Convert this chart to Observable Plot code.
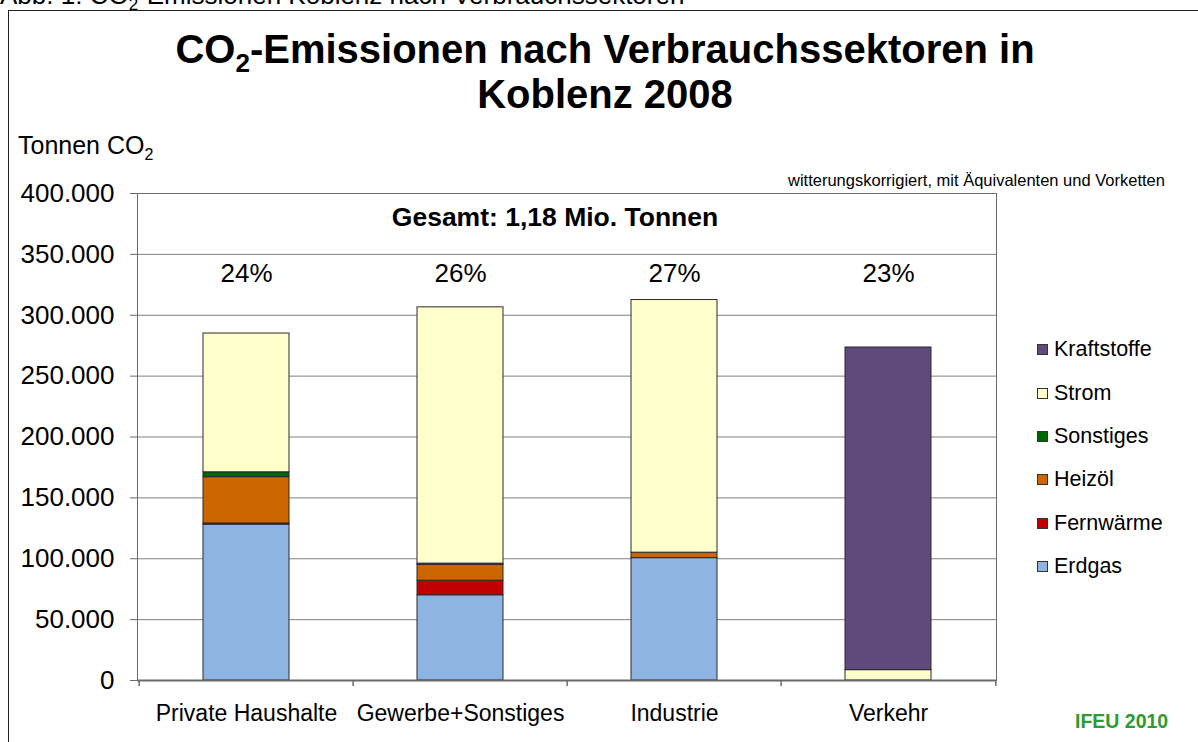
<!DOCTYPE html>
<html>
<head>
<meta charset="utf-8">
<script src="https://cdn.jsdelivr.net/npm/d3@7"></script>
<script src="https://cdn.jsdelivr.net/npm/@observablehq/plot@0.6"></script>
<style>
  html, body { margin: 0; padding: 0; background: #fff; }
  body { font-family: "Liberation Sans", Arial, sans-serif; color: #000; }
  #wrap { position: relative; width: 1198px; height: 742px; overflow: hidden; }
  #wrap > * { position: absolute; }
  #chart { left: 0; top: 0; }
  .abs { position: absolute; white-space: nowrap; }
</style>
</head>
<body>
<div id="wrap">
  <div class="abs" id="caption" style="left:0; top:-20px; font-size:26px;">Abb. 1: CO<sub style="font-size:17px">2</sub>-Emissionen Koblenz nach Verbrauchssektoren</div>
  <div class="abs" style="left:8px; top:10px; width:1400px; height:1000px; border:1px solid #222;"></div>
  <div id="chart"></div>
  <div class="abs" id="title" style="left:0; width:1210px; top:27px; text-align:center; font-weight:bold; font-size:40px; line-height:45px;">CO<sub style="font-size:26px; line-height:0;">2</sub>-Emissionen nach Verbrauchssektoren in<br>Koblenz 2008</div>
  <div class="abs" style="left:18px; top:131px; font-size:25px;">Tonnen CO<sub style="font-size:16px; line-height:0;">2</sub></div>
  <div class="abs" id="note" style="left:788px; top:171px; font-size:16.5px;"></div>
  <div class="abs" id="total" style="left:355px; width:400px; top:202px; text-align:center; font-weight:bold; font-size:26.5px;"></div>
  <div class="abs" id="legend" style="left:1037px; top:328px;"></div>
  <div class="abs" id="ifeu" style="left:1075px; top:710px; font-weight:bold; font-size:19.5px; color:#2f9a2f;"></div>
</div>
<script>
// ---- data ----
const categories = ["Private Haushalte", "Gewerbe+Sonstiges", "Industrie", "Verkehr"];
const sources = ["Erdgas", "Fernwärme", "Heizöl", "Sonstiges", "Strom", "Kraftstoffe"];
const erdgas      = [128000,  70000, 100500,      0];
const fernwaerme  = [  1000,  12000,      0,      0];
const heizoel     = [ 38000,  13000,   4500,      0];
const sonstiges   = [  4000,   1000,      0,      0];
const strom       = [114000, 210500, 207500,   8500];
const kraftstoffe = [     0,      0,      0, 265000];
const shares = ["24%", "26%", "27%", "23%"];
const yTicks = [0, 50000, 100000, 150000, 200000, 250000, 300000, 350000, 400000];
const colors = ["#8eb4e3", "#c00000", "#cc6600", "#006600", "#ffffcc", "#604a7b"];
const totalLabel = "Gesamt: 1,18 Mio. Tonnen";
const noteLabel = "witterungskorrigiert, mit Äquivalenten und Vorketten";
const sourceLabel = "IFEU 2010";

// ---- build ----
const series = [erdgas, fernwaerme, heizoel, sonstiges, strom, kraftstoffe];
const rows = [];
categories.forEach((c, i) => sources.forEach((s, j) => {
  if (series[j][i] > 0) rows.push({sector: c, source: s, value: series[j][i]});
}));
const shareRows = categories.map((c, i) => ({sector: c, share: shares[i]}));

const W = 1198, H = 742, mL = 137, mR = 202, mT = 193, mB = 62;
const step = (W - mL - mR) / categories.length;
const locale = d3.formatLocale({decimal: ",", thousands: ".", grouping: [3], currency: ["", "€"]});
const fmt = locale.format(",d");

const chart = Plot.plot({
  width: W, height: H,
  marginLeft: mL, marginRight: mR, marginTop: mT, marginBottom: mB,
  style: {fontFamily: "'Liberation Sans', Arial, sans-serif", fontSize: "21px", color: "#000", background: "transparent", overflow: "visible"},
  x: {domain: categories, paddingInner: 0.6, paddingOuter: 0.3},
  y: {domain: [0, 400000]},
  color: {domain: sources, range: colors},
  marks: [
    Plot.gridY(yTicks, {stroke: "#808080", strokeOpacity: 1, strokeWidth: 1}),
    Plot.frame({stroke: "#6a6a6a", strokeWidth: 1}),
    Plot.barY(rows, {x: "sector", y: "value", fill: "source", stroke: "#2a2a2a", strokeWidth: 1}),
    Plot.ruleY([0], {stroke: "#6a6a6a", strokeWidth: 2}),
    Plot.ruleX(categories, {x: d => d, dx: -step / 2, y1: 0, y2: -5000, stroke: "#6a6a6a", strokeWidth: 1.5}),
    Plot.ruleX(categories.slice(-1), {x: d => d, dx: step / 2, y1: 0, y2: -5000, stroke: "#6a6a6a", strokeWidth: 1.5}),
    Plot.axisY({ticks: yTicks, tickFormat: fmt, tickSize: 7, tickPadding: 16, fontSize: 26, label: null, stroke: "#6a6a6a"}),
    Plot.axisX({tickSize: 0, tickPadding: 24, fontSize: 23, label: null}),
    Plot.text(shareRows, {x: "sector", text: "share", frameAnchor: "top", lineAnchor: "middle", dy: 80, fontSize: 26})
  ]
});
document.getElementById("chart").appendChild(chart);

document.getElementById("note").textContent = noteLabel;
document.getElementById("total").textContent = totalLabel;
document.getElementById("ifeu").textContent = sourceLabel;

const legend = document.getElementById("legend");
sources.slice().reverse().forEach(s => {
  const i = sources.indexOf(s);
  const row = document.createElement("div");
  row.style.cssText = "display:flex; align-items:center; height:43.4px; font-size:21.5px;";
  const sw = document.createElement("span");
  sw.style.cssText = `display:inline-block; width:9px; height:9px; border:1px solid #333; background:${colors[i]}; margin-right:6px;`;
  const lb = document.createElement("span");
  lb.textContent = s;
  row.appendChild(sw); row.appendChild(lb);
  legend.appendChild(row);
});
</script>
</body>
</html>
